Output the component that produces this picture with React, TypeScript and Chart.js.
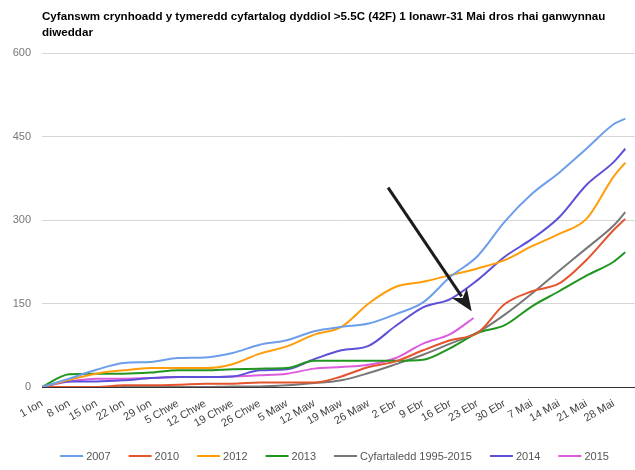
import React, { useEffect, useRef } from "react";
import { Chart, registerables } from "chart.js";

Chart.register(...registerables);

const titleLines = [
  "Cyfanswm crynhoadd y tymeredd cyfartalog dyddiol >5.5C (42F) 1 Ionawr-31 Mai dros rhai ganwynnau",
  "diweddar",
];

const tickDays = [0, 7, 14, 21, 28, 35, 42, 49, 56, 63, 70, 77, 84, 91, 98, 105, 112, 119, 126, 133, 140, 147];
const tickLabels = [
  "1 Ion", "8 Ion", "15 Ion", "22 Ion", "29 Ion", "5 Chwe", "12 Chwe", "19 Chwe", "26 Chwe",
  "5 Maw", "12 Maw", "19 Maw", "26 Maw", "2 Ebr", "9 Ebr", "16 Ebr", "23 Ebr", "30 Ebr",
  "7 Mai", "14 Mai", "21 Mai", "28 Mai",
];

// day index since 1 Jan
const days = [0, 7, 14, 21, 28, 35, 42, 49, 56, 63, 70, 77, 84, 91, 98, 105, 112, 119, 126, 133, 140, 147, 150];
const days2015 = [0, 7, 14, 21, 28, 35, 42, 49, 56, 63, 70, 77, 84, 91, 98, 105, 111];

const y2007 = [0, 15, 31, 43, 45, 52, 53, 61, 76, 84, 100, 108, 114, 131, 152, 198, 235, 297, 347, 385, 428, 472, 482];
const y2010 = [0, 0, 0, 3, 3, 4, 6, 6, 8, 8, 8, 19, 36, 46, 66, 84, 97, 149, 172, 186, 228, 282, 302];
const y2012 = [0, 13, 24, 30, 34, 34, 34, 41, 60, 73, 94, 108, 150, 180, 189, 201, 213, 228, 253, 275, 302, 378, 403];
const y2013 = [0, 23, 24, 24, 26, 30, 30, 32, 33, 34, 47, 47, 47, 47, 49, 70, 97, 111, 145, 172, 200, 225, 242];
const yAvg = [0, 0, 0, 0, 0, 0, 0, 1, 1, 3, 7, 12, 25, 41, 58, 78, 98, 130, 168, 209, 249, 290, 314];
const y2014 = [0, 10, 10, 12, 16, 18, 18, 19, 30, 32, 50, 66, 74, 110, 143, 158, 192, 234, 266, 305, 363, 404, 428];
const y2015 = [0, 10, 15, 15, 16, 18, 18, 19, 21, 24, 33, 36, 40, 52, 78, 95, 124];

const seriesNames = ["2007", "2010", "2012", "2013", "Cyfartaledd 1995-2015", "2014", "2015"];
const seriesColors = ["#6d9eeb", "#e4542f", "#ff9d0a", "#209620", "#777777", "#5d50d8", "#dc5cdc"];

// annotation arrow (day, value)
const arrowFrom = [89, 358];
const arrowTo = [110.5, 136];

const FONT = '"Liberation Sans", Arial, sans-serif';

export default function App() {
  const ref = useRef<HTMLCanvasElement>(null);

  useEffect(() => {
    document.body.style.margin = "0";
    const pts = (xs: number[], ys: number[]) => xs.map((x, i) => ({ x, y: ys[i] }));
    const seriesData = [
      pts(days, y2007),
      pts(days, y2010),
      pts(days, y2012),
      pts(days, y2013),
      pts(days, yAvg),
      pts(days, y2014),
      pts(days2015, y2015),
    ];

    const titlePlugin = {
      id: "titleText",
      afterDraw(chart: any) {
        const ctx = chart.ctx;
        ctx.save();
        ctx.font = `bold 11.6px ${FONT}`;
        ctx.fillStyle = "#000";
        ctx.textAlign = "left";
        ctx.textBaseline = "alphabetic";
        ctx.fillText(titleLines[0], chart.chartArea.left, 20);
        ctx.fillText(titleLines[1], chart.chartArea.left, 36);
        ctx.restore();
      },
    };

    const legendPlugin = {
      id: "lineLegend",
      afterDraw(chart: any) {
        const ctx = chart.ctx;
        const lineW = 23;
        const gapText = 3;
        const gapItem = 18;
        ctx.save();
        ctx.font = `11px ${FONT}`;
        const widths = seriesNames.map((n) => ctx.measureText(n).width);
        const total =
          widths.reduce((a, w) => a + lineW + gapText + w, 0) + gapItem * (seriesNames.length - 1);
        const center = (chart.chartArea.left + chart.chartArea.right) / 2 - 4;
        let x = center - total / 2;
        const y = 456;
        ctx.textBaseline = "middle";
        ctx.textAlign = "left";
        seriesNames.forEach((n, i) => {
          ctx.strokeStyle = seriesColors[i];
          ctx.lineWidth = 2;
          ctx.beginPath();
          ctx.moveTo(x, y);
          ctx.lineTo(x + lineW, y);
          ctx.stroke();
          ctx.fillStyle = "#555";
          ctx.fillText(n, x + lineW + gapText, y + 0.5);
          x += lineW + gapText + widths[i] + gapItem;
        });
        ctx.restore();
      },
    };

    const arrowPlugin = {
      id: "arrow",
      afterDatasetsDraw(chart: any) {
        const xs = chart.scales.x;
        const ys = chart.scales.y;
        const x1 = xs.getPixelForValue(arrowFrom[0]);
        const y1 = ys.getPixelForValue(arrowFrom[1]);
        const x2 = xs.getPixelForValue(arrowTo[0]);
        const y2 = ys.getPixelForValue(arrowTo[1]);
        const ang = Math.atan2(y2 - y1, x2 - x1);
        const ctx = chart.ctx;
        const headLen = 22;
        const headW = 9;
        ctx.save();
        ctx.strokeStyle = "#1c1c1c";
        ctx.fillStyle = "#1c1c1c";
        ctx.lineWidth = 3;
        ctx.beginPath();
        ctx.moveTo(x1, y1);
        ctx.lineTo(x2 - Math.cos(ang) * (headLen - 4), y2 - Math.sin(ang) * (headLen - 4));
        ctx.stroke();
        const bx = x2 - Math.cos(ang) * headLen;
        const by = y2 - Math.sin(ang) * headLen;
        const nx = -Math.sin(ang);
        const ny = Math.cos(ang);
        const mx = x2 - Math.cos(ang) * (headLen - 6);
        const my = y2 - Math.sin(ang) * (headLen - 6);
        ctx.beginPath();
        ctx.moveTo(x2, y2);
        ctx.lineTo(bx + nx * headW, by + ny * headW);
        ctx.lineTo(mx, my);
        ctx.lineTo(bx - nx * headW, by - ny * headW);
        ctx.closePath();
        ctx.fill();
        ctx.restore();
      },
    };

    const chart = new Chart(ref.current as HTMLCanvasElement, {
      type: "line",
      data: {
        datasets: seriesNames.map((name, i) => ({
          label: name,
          data: seriesData[i],
          borderColor: seriesColors[i],
          backgroundColor: seriesColors[i],
          borderWidth: 2,
          pointRadius: 0,
          fill: false,
          cubicInterpolationMode: "monotone" as const,
        })),
      },
      options: {
        animation: false,
        responsive: false,
        layout: { padding: { top: 53, left: 0, right: 0, bottom: 43 } },
        plugins: {
          title: { display: false },
          tooltip: { enabled: false },
          legend: { display: false },
        },
        scales: {
          x: {
            type: "linear",
            min: 0,
            max: 152.5,
            afterBuildTicks: (scale: any) => {
              scale.ticks = tickDays.map((v) => ({ value: v }));
            },
            afterFit: (scale: any) => {
              scale.height = 40;
            },
            ticks: {
              autoSkip: false,
              minRotation: 30,
              maxRotation: 30,
              padding: 10,
              color: "#444",
              font: { size: 11, family: FONT },
              callback: (v: any) => {
                const idx = tickDays.indexOf(Number(v));
                return idx >= 0 ? tickLabels[idx] : "";
              },
            },
            grid: { display: false, drawTicks: false },
            border: { display: false },
          },
          y: {
            min: 0,
            max: 600,
            afterFit: (scale: any) => {
              scale.width = 42;
            },
            ticks: {
              stepSize: 150,
              padding: 11,
              color: "#777",
              font: { size: 11, family: FONT },
            },
            grid: {
              drawTicks: false,
              color: (ctx: any) => (ctx.tick && ctx.tick.value === 0 ? "#333" : "#d6d6d6"),
            },
            border: { display: false },
          },
        },
      },
      plugins: [titlePlugin, arrowPlugin, legendPlugin],
    });
    return () => chart.destroy();
  }, []);

  return (
    <div style={{ width: 635, height: 470 }}>
      <canvas ref={ref} width={635} height={470} />
    </div>
  );
}
